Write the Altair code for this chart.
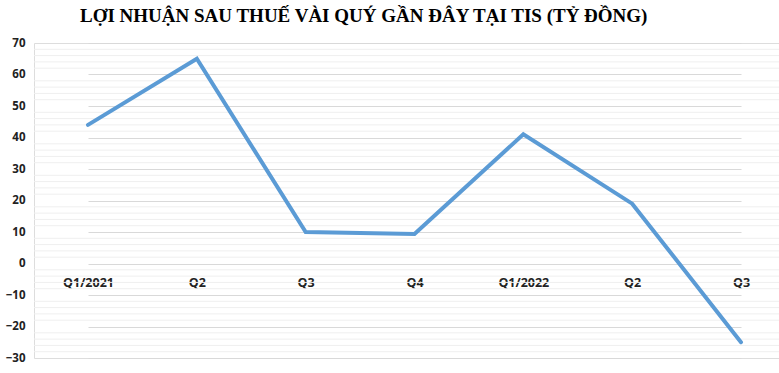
import altair as alt
import pandas as pd

quarters = ["Q1/2021", "Q2/2021", "Q3/2021", "Q4/2021", "Q1/2022", "Q2/2022", "Q3/2022"]
tick_labels = ["Q1/2021", "Q2", "Q3", "Q4", "Q1/2022", "Q2", "Q3"]
profit = [44, 65, 10, 9.4, 41, 19, -25]
minor_grid = [-28, -26, -24, -22, -18, -16, -14, -12, -8, -6, -4, -2,
              2, 4, 6, 8, 12, 14, 16, 18, 22, 24, 26, 28, 32, 34, 36, 38,
              42, 44, 46, 48, 52, 54, 56, 58, 62, 64, 66, 68]
major_ticks = [-30, -20, -10, 0, 10, 20, 30, 40, 50, 60, 70]

df = pd.DataFrame({"quarter": quarters, "profit": profit})
grid_df = pd.DataFrame({"v": minor_grid})

label_map = "{" + ",".join(f"'{q}':'{l}'" for q, l in zip(quarters, tick_labels)) + "}"

yscale = alt.Scale(domain=[-30, 70], nice=False, zero=False)
yaxis = alt.Axis(title=None, values=major_ticks, domain=False, ticks=False,
                 gridColor="#d9d9d9", gridWidth=1,
                 labelFont="Open Sans", labelFontSize=11.5, labelFontWeight="bold",
                 labelColor="#222222", labelPadding=9)

minor = alt.Chart(grid_df).mark_rule(color="#efefef", strokeWidth=1).encode(
    y=alt.Y("v:Q", scale=yscale, axis=yaxis)
)

line = alt.Chart(df).mark_line(color="#5B9BD5", strokeWidth=4, strokeCap="round", strokeJoin="miter").encode(
    x=alt.X("quarter:N", sort=quarters,
            scale=alt.Scale(type="point", range=[54, 707], padding=0),
            axis=alt.Axis(title=None, domain=False, ticks=False, grid=False,
                          labelExpr=f"{label_map}[datum.value]",
                          labelAngle=0, labelFont="Open Sans", labelFontSize=12.5,
                          labelFontWeight="bold", labelColor="#222222",
                          labelPadding=12, offset=-94)),
    y=alt.Y("profit:Q", scale=yscale, axis=yaxis),
)

chart = alt.layer(minor, line).properties(
    width=745, height=315,
    autosize=alt.AutoSizeParams(type="none"),
    padding={"left": 34, "top": 43, "right": 0, "bottom": 15},
    title=alt.TitleParams(
        "LỢI NHUẬN SAU THUẾ VÀI QUÝ GẦN ĐÂY TẠI TIS (TỶ ĐỒNG)",
        anchor="start", frame="group", dx=46, offset=11, font="Liberation Serif",
        fontSize=19, fontWeight="bold", color="#000000"),
).configure_view(strokeWidth=0).configure(background="white")

chart.save("out.html", embed_options={"renderer": "svg", "actions": False})
